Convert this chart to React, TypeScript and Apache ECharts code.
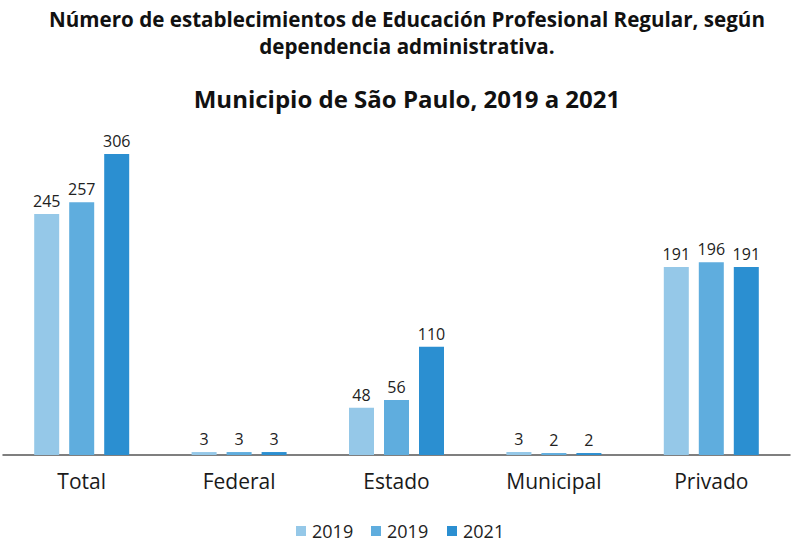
import React, { useEffect, useRef } from "react";
import * as echarts from "echarts";

const categories = ["Total", "Federal", "Estado", "Municipal", "Privado"];
const seriesNames = ["2019", "2019", "2021"];
const values2019a = [245, 3, 48, 3, 191];
const values2019b = [257, 3, 56, 2, 196];
const values2021 = [306, 3, 110, 2, 191];
const colors = ["#95c8e8", "#5fadde", "#2b8fd1"];
const titleLines = [
  "Número de establecimientos de Educación Profesional Regular, según",
  "dependencia administrativa.",
];
const subtitle = "Municipio de São Paulo, 2019 a 2021";

const FONT = "'Open Sans', 'Noto Sans', sans-serif";

export default function App() {
  const ref = useRef<HTMLDivElement>(null);
  useEffect(() => {
    if (!ref.current) return;
    const chart = echarts.init(ref.current, undefined, { renderer: "svg" });
    const data = [values2019a, values2019b, values2021];
    const legendX = [296, 371, 447];
    const graphics: any[] = [];
    const titleY = [19, 46];
    titleLines.forEach((t, i) => {
      graphics.push({
        type: "text",
        x: 407,
        y: titleY[i],
        style: {
          text: t,
          fill: "#111",
          font: `bold 20.6px ${FONT}`,
          align: "center",
          verticalAlign: "middle",
        },
      });
    });
    graphics.push({
      type: "text",
      x: 407,
      y: 98,
      style: {
        text: subtitle,
        fill: "#111",
        font: `bold 24px ${FONT}`,
        align: "center",
        verticalAlign: "middle",
      },
    });
    seriesNames.forEach((n, i) => {
      graphics.push({
        type: "rect",
        shape: { x: legendX[i], y: 526, width: 10, height: 10 },
        style: { fill: colors[i] },
      });
      graphics.push({
        type: "text",
        x: legendX[i] + 16,
        y: 531,
        style: {
          text: n,
          fill: "#222",
          font: `18px ${FONT}`,
          verticalAlign: "middle",
        },
      });
    });
    chart.setOption({
      animation: false,
      backgroundColor: "#ffffff",
      textStyle: { fontFamily: FONT },
      grid: { left: 3, right: 6, top: 154, bottom: 87, containLabel: false },
      xAxis: {
        type: "category",
        data: categories,
        axisLine: { lineStyle: { color: "#555", width: 1.5 } },
        axisTick: { show: false },
        axisLabel: {
          fontFamily: FONT,
          fontSize: 21,
          color: "#1a1a1a",
          margin: 15,
        },
      },
      yAxis: {
        type: "value",
        min: 0,
        max: 306,
        show: false,
        splitLine: { show: false },
      },
      series: data.map((d, i) => ({
        type: "bar",
        name: seriesNames[i],
        data: d,
        barWidth: 25,
        barGap: "40%",
        itemStyle: { color: colors[i] },
        label: {
          show: true,
          position: "top",
          distance: 5,
          fontFamily: FONT,
          fontSize: 16,
          color: "#222",
        },
      })),
      graphic: graphics,
    });
    return () => chart.dispose();
  }, []);
  return (
    <div
      ref={ref}
      style={{ position: "absolute", left: 0, top: 0, width: 796, height: 542 }}
    />
  );
}
